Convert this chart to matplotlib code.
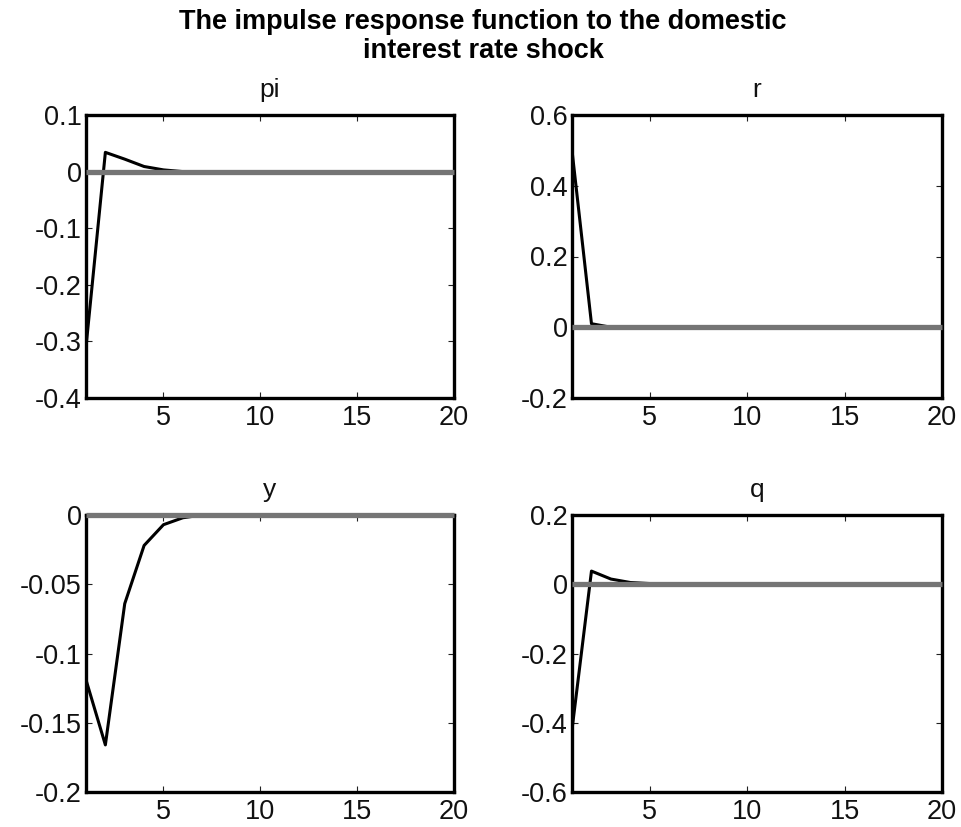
import matplotlib
matplotlib.use("Agg")
import matplotlib.pyplot as plt
import numpy as np

plt.rcParams['font.family'] = ['Liberation Sans', 'DejaVu Sans']

periods = list(range(1, 21))
pi_vals = [-0.31, 0.034, 0.022, 0.009, 0.003] + [0.0] * 15
r_vals = [0.50, 0.01] + [0.0] * 18
y_vals = [-0.119, -0.166, -0.064, -0.022, -0.007, -0.002] + [0.0] * 14
q_vals = [-0.42, 0.038, 0.015, 0.005, 0.002] + [0.0] * 15

titles = ["pi", "r", "y", "q"]
series = [pi_vals, r_vals, y_vals, q_vals]
ylims = [(-0.4, 0.1), (-0.2, 0.6), (-0.2, 0.0), (-0.6, 0.2)]
yticks = [
    [-0.4, -0.3, -0.2, -0.1, 0, 0.1],
    [-0.2, 0, 0.2, 0.4, 0.6],
    [-0.2, -0.15, -0.1, -0.05, 0],
    [-0.6, -0.4, -0.2, 0, 0.2],
]
yticklabels = [
    ["-0.4", "-0.3", "-0.2", "-0.1", "0", "0.1"],
    ["-0.2", "0", "0.2", "0.4", "0.6"],
    ["-0.2", "-0.15", "-0.1", "-0.05", "0"],
    ["-0.6", "-0.4", "-0.2", "0", "0.2"],
]
xticks = [5, 10, 15, 20]

fig = plt.figure(figsize=(9.61, 8.27), dpi=100)

rects = [
    (86 / 961, 1 - 398 / 827, 368 / 961, 283 / 827),
    (572 / 961, 1 - 398 / 827, 370 / 961, 283 / 827),
    (86 / 961, 1 - 792 / 827, 368 / 961, 277 / 827),
    (572 / 961, 1 - 792 / 827, 370 / 961, 277 / 827),
]

for rect, title, vals, yl, yt, ytl in zip(rects, titles, series, ylims, yticks, yticklabels):
    ax = fig.add_axes(rect)
    ax.plot(periods, vals, color='black', lw=2.2, zorder=2)
    ax.plot(periods, np.zeros(len(periods)), color='#757575', lw=3.8, zorder=3,
            clip_on=False, solid_capstyle='butt')
    ax.set_xlim(1, 20)
    ax.set_ylim(*yl)
    ax.set_xticks(xticks)
    ax.set_xticklabels([str(t) for t in xticks])
    ax.set_yticks(yt)
    ax.set_yticklabels(ytl)
    ax.tick_params(direction='in', length=4, width=0.8, labelsize=19.5,
                   top=True, right=True, colors='#222222',
                   labelcolor='#111111')
    ax.tick_params(axis='y', pad=3)
    ax.tick_params(axis='x', pad=5)
    for s in ax.spines.values():
        s.set_linewidth(2.4)
        s.set_color('black')
    ax.set_title(title, fontsize=19, pad=13, color='#111111')

fig.text(483 / 961, 1 - 22 / 827, "The impulse response function to the domestic",
         ha='center', va='center', fontsize=19.5, fontweight='bold')
fig.text(483 / 961, 1 - 51 / 827, "interest rate shock",
         ha='center', va='center', fontsize=19.5, fontweight='bold')

fig.savefig("out.png", dpi=100)
